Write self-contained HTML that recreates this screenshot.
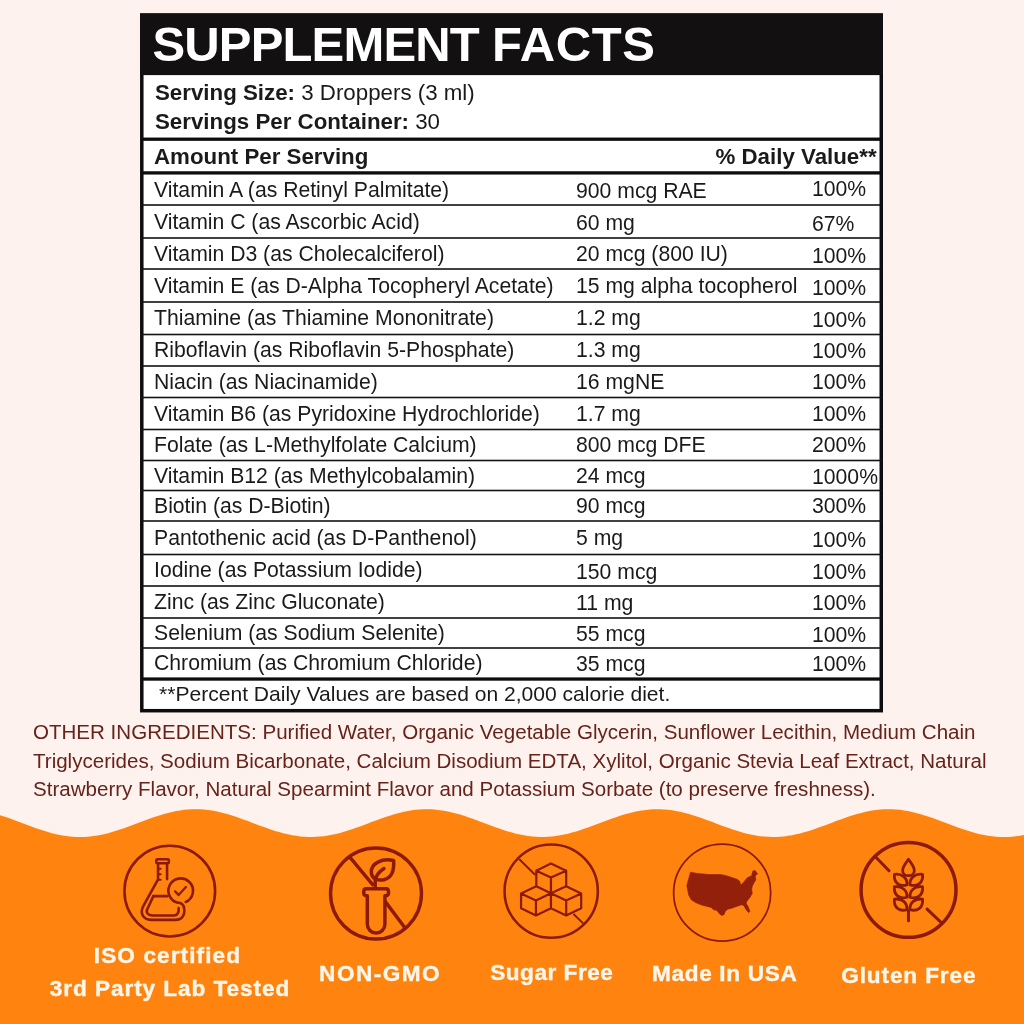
<!DOCTYPE html>
<html><head><meta charset="utf-8"><title>Supplement Facts</title>
<style>
html,body{margin:0;padding:0}
body{width:1024px;height:1024px;position:relative;overflow:hidden;background:#fef2ee;font-family:"Liberation Sans",Arial,sans-serif;color:#1a1a1a}
.abs{position:absolute}
#title{position:absolute;left:152.5px;top:14px;height:61px;line-height:61px;font-size:49px;font-weight:bold;color:#fff;white-space:nowrap;letter-spacing:-0.6px}
.r{position:absolute;left:0;width:1024px;height:30px;line-height:30px;font-size:21.2px;white-space:nowrap}
.c1{position:absolute;left:154px}
.c2{position:absolute;left:576px}
.c3{position:absolute;left:812px}
.b{font-weight:bold}
.sv{position:absolute;left:155px;font-size:22.3px;line-height:30px;white-space:nowrap}
#oi{position:absolute;left:33px;top:718px;width:990px;font-size:20.555px;line-height:28.5px;color:#67221a;white-space:nowrap}
#wave{position:absolute;left:0;top:790px}
.lbl{position:absolute;color:#fff6ea;-webkit-text-stroke:0.4px #fff6ea;font-weight:bold;font-size:22.6px;line-height:34px;text-align:center;white-space:nowrap;transform:translateX(-50%)}
</style></head><body>
<svg class="abs" style="left:0;top:0" width="1024" height="760" viewBox="0 0 1024 760">
<rect x="141.8" y="15.4" width="739.45" height="695.3" fill="#fff" stroke="#0e0d0d" stroke-width="3.5"/>
<rect x="140.05" y="13.2" width="742.95" height="61.9" fill="#121010"/>
<rect x="141" y="137.55" width="741" height="3.3" fill="#0e0d0d"/>
<rect x="141" y="171.25" width="741" height="3.3" fill="#0e0d0d"/>
<rect x="141" y="677.40" width="741" height="3.3" fill="#0e0d0d"/>
<rect x="141" y="204.20" width="741" height="1.6" fill="#151313"/>
<rect x="141" y="237.20" width="741" height="1.6" fill="#151313"/>
<rect x="141" y="268.20" width="741" height="1.6" fill="#151313"/>
<rect x="141" y="301.20" width="741" height="1.6" fill="#151313"/>
<rect x="141" y="333.70" width="741" height="1.6" fill="#151313"/>
<rect x="141" y="365.20" width="741" height="1.6" fill="#151313"/>
<rect x="141" y="396.70" width="741" height="1.6" fill="#151313"/>
<rect x="141" y="428.70" width="741" height="1.6" fill="#151313"/>
<rect x="141" y="459.70" width="741" height="1.6" fill="#151313"/>
<rect x="141" y="489.70" width="741" height="1.6" fill="#151313"/>
<rect x="141" y="520.20" width="741" height="1.6" fill="#151313"/>
<rect x="141" y="553.70" width="741" height="1.6" fill="#151313"/>
<rect x="141" y="585.20" width="741" height="1.6" fill="#151313"/>
<rect x="141" y="617.20" width="741" height="1.6" fill="#151313"/>
<rect x="141" y="647.20" width="741" height="1.6" fill="#151313"/>
</svg>
<div id="title"><span style="letter-spacing:-0.85px">SUPPLEMENT</span> <span style="letter-spacing:0.6px">FACTS</span></div>
<div class="sv" style="top:78px"><span class="b">Serving Size:</span> 3 Droppers (3 ml)</div>
<div class="sv" style="top:107px"><span class="b">Servings Per Container:</span> 30</div>
<div class="sv b" style="top:141.7px;left:154px">Amount Per Serving</div>
<div class="sv b" style="top:141.5px;left:715.5px">% Daily Value**</div>
<div class="r" style="top:175.0px"><span class="c1" style="top:0.3px">Vitamin A (as Retinyl Palmitate)</span><span class="c2" style="top:1px">900 mcg RAE</span><span class="c3" style="top:-0.7px">100%</span></div>
<div class="r" style="top:206.5px"><span class="c1" style="top:0.3px">Vitamin C (as Ascorbic Acid)</span><span class="c2" style="top:1px">60 mg</span><span class="c3" style="top:2.7px">67%</span></div>
<div class="r" style="top:238.5px"><span class="c1" style="top:0.3px">Vitamin D3 (as Cholecalciferol)</span><span class="c2" style="top:0px">20 mcg (800 IU)</span><span class="c3" style="top:2.7px">100%</span></div>
<div class="r" style="top:270.5px"><span class="c1" style="top:0.3px">Vitamin E (as D-Alpha Tocopheryl Acetate)</span><span class="c2" style="top:0.7px">15 mg alpha tocopherol</span><span class="c3" style="top:2.3px">100%</span></div>
<div class="r" style="top:303.2px"><span class="c1" style="top:0.3px">Thiamine (as Thiamine Mononitrate)</span><span class="c2" style="top:0px">1.2 mg</span><span class="c3" style="top:1.7px">100%</span></div>
<div class="r" style="top:335.2px"><span class="c1" style="top:0px">Riboflavin (as Riboflavin 5-Phosphate)</span><span class="c2" style="top:0px">1.3 mg</span><span class="c3" style="top:1px">100%</span></div>
<div class="r" style="top:366.8px"><span class="c1" style="top:0px">Niacin (as Niacinamide)</span><span class="c2" style="top:0px">16 mgNE</span><span class="c3" style="top:0.3px">100%</span></div>
<div class="r" style="top:398.5px"><span class="c1" style="top:0px">Vitamin B6 (as Pyridoxine Hydrochloride)</span><span class="c2" style="top:0px">1.7 mg</span><span class="c3" style="top:0px">100%</span></div>
<div class="r" style="top:430.0px"><span class="c1" style="top:0px">Folate (as L-Methylfolate Calcium)</span><span class="c2" style="top:0px">800 mcg DFE</span><span class="c3" style="top:0px">200%</span></div>
<div class="r" style="top:460.5px"><span class="c1" style="top:0px">Vitamin B12 (as Methylcobalamin)</span><span class="c2" style="top:0.3px">24 mcg</span><span class="c3" style="top:1px">1000%</span></div>
<div class="r" style="top:490.8px"><span class="c1" style="top:0.3px">Biotin (as D-Biotin)</span><span class="c2" style="top:0.7px">90 mcg</span><span class="c3" style="top:0.7px">300%</span></div>
<div class="r" style="top:522.8px"><span class="c1" style="top:0px">Pantothenic acid (as D-Panthenol)</span><span class="c2" style="top:0.7px">5 mg</span><span class="c3" style="top:2.3px">100%</span></div>
<div class="r" style="top:555.2px"><span class="c1" style="top:0px">Iodine (as Potassium Iodide)</span><span class="c2" style="top:1.7px">150 mcg</span><span class="c3" style="top:1.7px">100%</span></div>
<div class="r" style="top:587.0px"><span class="c1" style="top:0.3px">Zinc (as Zinc Gluconate)</span><span class="c2" style="top:1.3px">11 mg</span><span class="c3" style="top:1.3px">100%</span></div>
<div class="r" style="top:618.0px"><span class="c1" style="top:0.3px">Selenium (as Sodium Selenite)</span><span class="c2" style="top:1px">55 mcg</span><span class="c3" style="top:1.7px">100%</span></div>
<div class="r" style="top:647.5px"><span class="c1" style="top:0.3px">Chromium (as Chromium Chloride)</span><span class="c2" style="top:1.7px">35 mcg</span><span class="c3" style="top:1px">100%</span></div>
<div class="r" style="top:678.7px;font-size:21.07px"><span class="c1" style="left:159px">**Percent Daily Values are based on 2,000 calorie diet.</span></div>
<div id="oi">OTHER INGREDIENTS: Purified Water, Organic Vegetable Glycerin, Sunflower Lecithin, Medium Chain<br>Triglycerides, Sodium Bicarbonate, Calcium Disodium EDTA, Xylitol, Organic Stevia Leaf Extract, Natural<br>Strawberry Flavor, Natural Spearmint Flavor and Potassium Sorbate (to preserve freshness).</div>
<svg id="wave" width="1024" height="234" viewBox="0 790 1024 234">
<path d="M-4,814.00 L0,815.19 L4,816.48 L8,817.85 L12,819.27 L16,820.75 L20,822.25 L24,823.76 L28,825.27 L32,826.74 L36,828.18 L40,829.55 L44,830.85 L48,832.06 L52,833.16 L56,834.14 L60,834.99 L64,835.70 L68,836.27 L72,836.67 L76,836.92 L80,837.00 L84,836.92 L88,836.67 L92,836.27 L96,835.70 L100,834.99 L104,834.14 L108,833.16 L112,832.06 L116,830.85 L120,829.55 L124,828.18 L128,826.74 L132,825.27 L136,823.76 L140,822.25 L144,820.75 L148,819.27 L152,817.85 L156,816.48 L160,815.19 L164,814.00 L168,812.91 L172,811.94 L176,811.11 L180,810.42 L184,809.87 L188,809.49 L192,809.26 L196,809.20 L200,809.30 L204,809.57 L208,810.00 L212,810.58 L216,811.31 L220,812.17 L224,813.17 L228,814.29 L232,815.51 L236,816.81 L240,818.20 L244,819.64 L248,821.12 L252,822.63 L256,824.14 L260,825.64 L264,827.11 L268,828.53 L272,829.89 L276,831.16 L280,832.34 L284,833.42 L288,834.37 L292,835.18 L296,835.86 L300,836.38 L304,836.75 L308,836.95 L312,836.99 L316,836.87 L320,836.59 L324,836.14 L328,835.54 L332,834.79 L336,833.91 L340,832.90 L344,831.77 L348,830.54 L352,829.22 L356,827.82 L360,826.38 L364,824.89 L368,823.38 L372,821.87 L376,820.38 L380,818.91 L384,817.50 L388,816.15 L392,814.88 L396,813.72 L400,812.66 L404,811.72 L408,810.92 L412,810.27 L416,809.76 L420,809.42 L424,809.23 L428,809.21 L432,809.36 L436,809.66 L440,810.13 L444,810.75 L448,811.51 L452,812.41 L456,813.44 L460,814.58 L464,815.83 L468,817.15 L472,818.55 L476,820.01 L480,821.50 L484,823.01 L488,824.52 L492,826.01 L496,827.47 L500,828.87 L504,830.21 L508,831.47 L512,832.62 L516,833.67 L520,834.58 L524,835.37 L528,836.00 L532,836.49 L536,836.82 L540,836.98 L544,836.98 L548,836.82 L552,836.49 L556,836.00 L560,835.37 L564,834.58 L568,833.67 L572,832.62 L576,831.47 L580,830.21 L584,828.87 L588,827.47 L592,826.01 L596,824.52 L600,823.01 L604,821.50 L608,820.01 L612,818.55 L616,817.15 L620,815.83 L624,814.58 L628,813.44 L632,812.41 L636,811.51 L640,810.75 L644,810.13 L648,809.66 L652,809.36 L656,809.21 L660,809.23 L664,809.42 L668,809.76 L672,810.27 L676,810.92 L680,811.72 L684,812.66 L688,813.72 L692,814.88 L696,816.15 L700,817.50 L704,818.91 L708,820.38 L712,821.87 L716,823.38 L720,824.89 L724,826.38 L728,827.82 L732,829.22 L736,830.54 L740,831.77 L744,832.90 L748,833.91 L752,834.79 L756,835.54 L760,836.14 L764,836.59 L768,836.87 L772,836.99 L776,836.95 L780,836.75 L784,836.38 L788,835.86 L792,835.18 L796,834.37 L800,833.42 L804,832.34 L808,831.16 L812,829.89 L816,828.53 L820,827.11 L824,825.64 L828,824.14 L832,822.63 L836,821.12 L840,819.64 L844,818.20 L848,816.81 L852,815.51 L856,814.29 L860,813.17 L864,812.17 L868,811.31 L872,810.58 L876,810.00 L880,809.57 L884,809.30 L888,809.20 L892,809.26 L896,809.49 L900,809.87 L904,810.42 L908,811.11 L912,811.94 L916,812.91 L920,814.00 L924,815.19 L928,816.48 L932,817.85 L936,819.27 L940,820.75 L944,822.25 L948,823.76 L952,825.27 L956,826.74 L960,828.18 L964,829.55 L968,830.85 L972,832.06 L976,833.16 L980,834.14 L984,834.99 L988,835.70 L992,836.27 L996,836.67 L1000,836.92 L1004,837.00 L1008,836.92 L1012,836.67 L1016,836.27 L1020,835.70 L1024,834.99 L1028,834.14 L1028,1024 L-4,1024 Z" fill="#ff830f"/>
<g transform="translate(110,832) scale(0.1171875)" fill="none" stroke="#8d1a06" stroke-linecap="round" stroke-linejoin="round"><circle cx="510" cy="504" r="387" stroke-width="22"/>
<rect x="395" y="232" width="107" height="35" rx="9" stroke-width="22"/>
<path d="M410,272 V405 L285,630 C250,695 285,750 350,750 H560 C610,750 634,715 634,680 V665 C634,630 615,612 599,606 A105,105 0 1 1 646,597" stroke-width="22"/>
<path d="M487,272 V402" stroke-width="22"/>
<path d="M412,313 H432 M412,360 H432 M412,408 H432" stroke-width="18"/>
<path d="M370,547 H490" stroke-width="22"/>
<path d="M370,547 L322,650 C300,690 325,712 360,712 H545 C575,712 588,690 586,648" stroke-width="22"/>
<path d="M556,507 L585,538 L648,470" stroke-width="20"/></g>
<g transform="translate(316,834) scale(0.1171875)" fill="none" stroke="#8d1a06" stroke-linecap="round" stroke-linejoin="round"><circle cx="512" cy="508" r="388" stroke-width="29"/>
<path d="M287,195 L490,441 M590,575 L760,803" stroke-width="29" stroke-linecap="butt"/>
<path d="M428,468 H598 C626,468 626,526 598,526 H588 V770 A75,75 0 0 1 438,770 V526 H428 C400,526 400,468 428,468 Z" stroke-width="30"/>
<path d="M505,455 V400 C510,350 540,320 580,295" stroke-width="30"/>
<path d="M662,226 C560,205 470,250 472,325 C474,385 530,400 580,390 C650,372 668,300 662,226 Z" stroke-width="30"/></g>
<g transform="translate(490,832) scale(0.1171875)" fill="none" stroke="#8d1a06" stroke-linecap="round" stroke-linejoin="round"><circle cx="522" cy="505" r="398" stroke-width="22"/>
<path d="M250,232 L385,365 M712,700 L795,780" stroke-width="17" stroke-linecap="butt"/>
<path d="M520,268 L395,330 L520,388 L650,330 Z M395,330 V462 M650,330 V462 M520,388 V650 M395,462 L520,522 L650,462 M395,462 L265,525 L392,584 L520,522 L650,584 L778,525 L650,462 M265,525 V650 L392,712 L520,650 L650,712 L778,650 V525 M392,584 V712 M650,584 V712" stroke-width="19"/></g>
<g transform="translate(662,833) scale(0.1171875)" fill="none" stroke="#8d1a06" stroke-linecap="round" stroke-linejoin="round"><circle cx="513.5" cy="509" r="414" stroke-width="15"/>
<path d="M245,335 L300,345 L400,355 L500,355 L540,362 L590,378 L640,395 L662,410 L672,445 L700,415 L730,380 L765,365 L775,325 L795,320 L815,350 L795,365 L800,400 L785,425 L770,455 L765,480 L770,515 L750,550 L725,580 L718,600 L735,630 L750,670 L738,678 L715,650 L700,620 L680,612 L640,625 L600,640 L560,650 L540,668 L528,698 L510,703 L490,690 L468,660 L440,655 L420,635 L380,625 L340,615 L290,595 L250,570 L228,530 L212,450 L225,400 L238,355 Z" fill="#93200a" stroke="#93200a" stroke-width="6"/></g>
<g transform="translate(848,830) scale(0.1171875)" fill="none" stroke="#8d1a06" stroke-linecap="round" stroke-linejoin="round"><circle cx="516.5" cy="511" r="405" stroke-width="30"/>
<path d="M242,237 L350,348 M675,675 L798,793" stroke-width="26"/>
<path d="M516,250 C492,282 466,312 466,345 C466,376 492,390 516,390 C540,390 566,376 566,345 C566,312 540,282 516,250 Z" stroke-width="24"/>
<path d="M635,378 C572,370 524,408 529,468 C592,486 644,450 636,378 Z M397,378 C460,370 508,408 503,468 C440,486 388,450 396,378 Z M635,484 C572,476 524,514 529,574 C592,592 644,556 636,484 Z M397,484 C460,476 508,514 503,574 C440,592 388,556 396,484 Z M635,590 C572,582 524,620 529,680 C592,698 644,662 636,590 Z M397,590 C460,582 508,620 503,680 C440,698 388,662 396,590 Z" stroke-width="24"/>
<path d="M516,690 V775" stroke-width="26"/></g>
</svg>
<div class="lbl" style="left:167.5px;top:939.2px;letter-spacing:1.1px">ISO certified</div>
<div class="lbl" style="left:170px;top:972.1px;letter-spacing:0.93px">3rd Party Lab Tested</div>
<div class="lbl" style="left:380.1px;top:956.6px;letter-spacing:1.47px">NON-GMO</div>
<div class="lbl" style="left:551.8px;top:955.6px;letter-spacing:0.51px">Sugar Free</div>
<div class="lbl" style="left:724.7px;top:956.6px;letter-spacing:0.68px">Made In USA</div>
<div class="lbl" style="left:908.8px;top:958.9px;letter-spacing:0.87px">Gluten Free</div>
</body></html>
